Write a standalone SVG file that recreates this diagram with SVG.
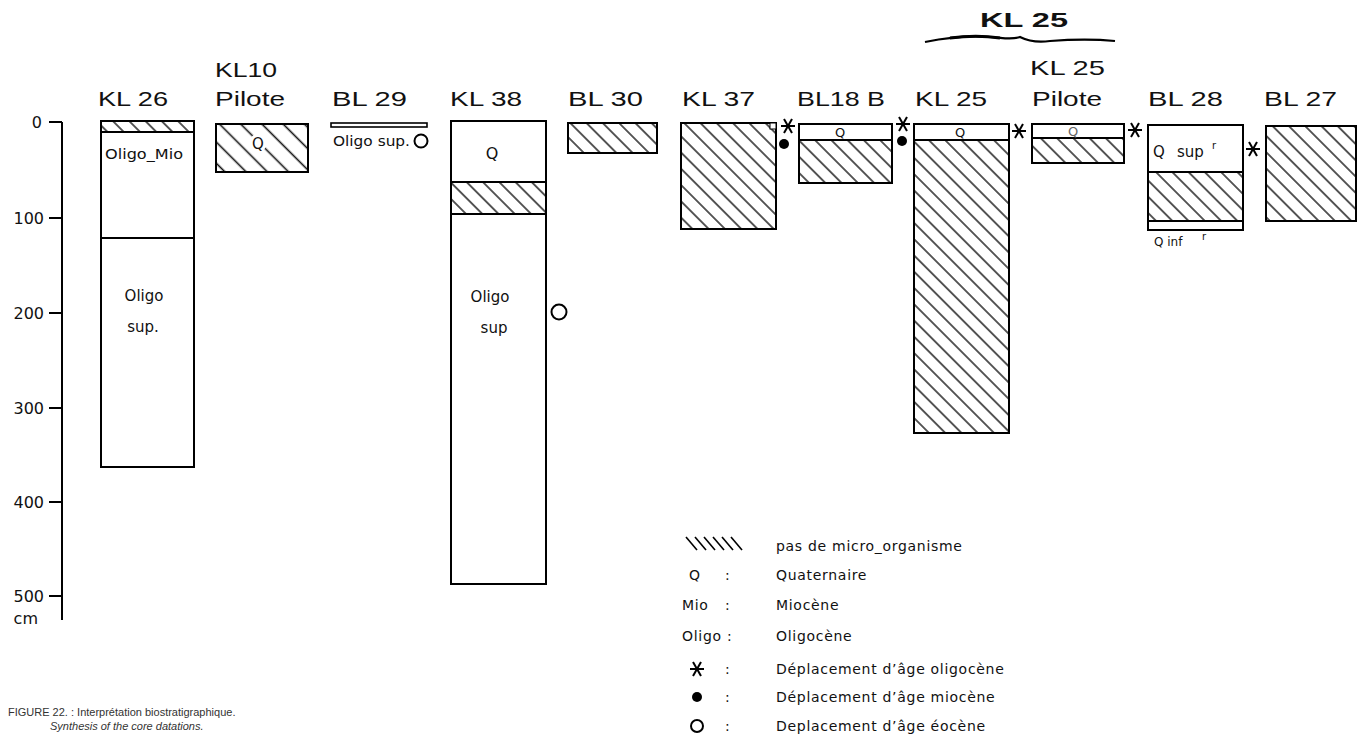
<svg xmlns="http://www.w3.org/2000/svg" width="1363" height="741" viewBox="0 0 1363 741">
<style>
.box{fill:#fff;stroke:#000;stroke-width:2}
.hb{fill:url(#hatch);stroke:#000;stroke-width:2}
.ln{stroke:#000;stroke-width:2;fill:none}
.hd{font-family:"Liberation Sans","DejaVu Sans",sans-serif;font-size:21px;fill:#111}
.in{font-family:"DejaVu Sans","Liberation Sans",sans-serif;fill:#111}
.ax{font-family:"DejaVu Sans","Liberation Sans",sans-serif;font-size:16px;fill:#111;text-anchor:end}
.lg{font-family:"DejaVu Sans","Liberation Sans",sans-serif;font-size:14px;fill:#111;letter-spacing:0.7px}
.cap{font-family:"Liberation Sans",Arial,sans-serif;font-size:11px;fill:#333}
</style>
<defs>
<pattern id="hatch" patternUnits="userSpaceOnUse" width="11.5" height="11.5" patternTransform="rotate(-45)">
<line x1="5.75" y1="-1" x2="5.75" y2="12.5" stroke="#111" stroke-width="1.4"/>
</pattern>
<pattern id="hatch2" patternUnits="userSpaceOnUse" width="15" height="15" patternTransform="rotate(-45)">
<line x1="7.5" y1="-1" x2="7.5" y2="16" stroke="#111" stroke-width="1.6"/>
</pattern>
<g id="ast">
<line x1="-7" y1="0" x2="7" y2="0" stroke="#000" stroke-width="2"/>
<line x1="-4" y1="-7" x2="4" y2="7" stroke="#000" stroke-width="2"/>
<line x1="4" y1="-7" x2="-4" y2="7" stroke="#000" stroke-width="2"/>
</g>
</defs>
<rect width="1363" height="741" fill="#fff"/>

<g id="axis">
<line class="ln" x1="62" y1="122" x2="62" y2="620"/>
<line class="ln" x1="49" y1="122" x2="62" y2="122"/>
<line class="ln" x1="49" y1="218" x2="62" y2="218"/>
<line class="ln" x1="49" y1="313" x2="62" y2="313"/>
<line class="ln" x1="49" y1="408" x2="62" y2="408"/>
<line class="ln" x1="49" y1="502" x2="62" y2="502"/>
<line class="ln" x1="49" y1="596" x2="62" y2="596"/>
<text class="ax" x="42" y="128">0</text>
<text class="ax" x="44" y="224">100</text>
<text class="ax" x="44" y="319">200</text>
<text class="ax" x="44" y="414">300</text>
<text class="ax" x="44" y="508">400</text>
<text class="ax" x="44" y="602">500</text>
<text class="ax" x="38" y="624">cm</text>
</g>

<g id="header">
<text class="hd" x="980" y="27" textLength="88" lengthAdjust="spacingAndGlyphs" style="font-weight:bold">KL 25</text>
<text class="hd" x="98" y="106" textLength="70" lengthAdjust="spacingAndGlyphs">KL 26</text>
<text class="hd" x="215" y="77" textLength="62" lengthAdjust="spacingAndGlyphs">KL10</text>
<text class="hd" x="215" y="106" textLength="70" lengthAdjust="spacingAndGlyphs">Pilote</text>
<text class="hd" x="332" y="106" textLength="75" lengthAdjust="spacingAndGlyphs">BL 29</text>
<text class="hd" x="450" y="106" textLength="72" lengthAdjust="spacingAndGlyphs">KL 38</text>
<text class="hd" x="568" y="106" textLength="75" lengthAdjust="spacingAndGlyphs">BL 30</text>
<text class="hd" x="682" y="106" textLength="73" lengthAdjust="spacingAndGlyphs">KL 37</text>
<text class="hd" x="797" y="106" textLength="88" lengthAdjust="spacingAndGlyphs">BL18 B</text>
<text class="hd" x="915" y="106" textLength="72" lengthAdjust="spacingAndGlyphs">KL 25</text>
<text class="hd" x="1030" y="75" textLength="75" lengthAdjust="spacingAndGlyphs">KL 25</text>
<text class="hd" x="1032" y="106" textLength="70" lengthAdjust="spacingAndGlyphs">Pilote</text>
<text class="hd" x="1148" y="106" textLength="75" lengthAdjust="spacingAndGlyphs">BL 28</text>
<text class="hd" x="1264" y="106" textLength="73" lengthAdjust="spacingAndGlyphs">BL 27</text>
</g>

<g id="connectors">
<path d="M925,42 C945,38 965,35 990,37 C1005,38 1012,40 1020,37 C1028,41 1036,43 1050,41 C1075,39 1095,39 1115,41" fill="none" stroke="#000" stroke-width="2.2"/>
<path d="M950,38 C965,36 980,35 1000,38" fill="none" stroke="#000" stroke-width="3"/>
</g>

<g id="KL26">
<rect class="box" x="101" y="121" width="93" height="346"/>
<rect class="hb" x="101" y="121" width="93" height="11"/>
<line class="ln" x1="101" y1="238" x2="194" y2="238"/>
<text class="in" x="105" y="159" textLength="78" lengthAdjust="spacingAndGlyphs" style="font-size:14px">Oligo_Mio</text>
<text class="in" x="144" y="301" text-anchor="middle" style="font-size:15px">Oligo</text>
<text class="in" x="143" y="332" text-anchor="middle" style="font-size:15px">sup.</text>
</g>

<g id="KL10">
<rect class="box" x="216" y="124" width="92" height="48" style="fill:url(#hatch2)"/>
<ellipse cx="258" cy="143" rx="9" ry="9" fill="#fff"/>
<text class="in" x="258" y="149" text-anchor="middle" style="font-size:15px">Q</text>
</g>

<g id="BL29">
<rect x="331" y="123" width="96" height="4" fill="#fff" stroke="#000" stroke-width="1.6"/>
<text class="in" x="333" y="146" textLength="77" lengthAdjust="spacingAndGlyphs" style="font-size:14px">Oligo sup.</text>
<circle cx="421" cy="141" r="6.5" fill="#fff" stroke="#000" stroke-width="2"/>
</g>

<g id="KL38">
<rect class="box" x="451" y="121" width="95" height="463"/>
<rect class="hb" x="451" y="182" width="95" height="32"/>
<text class="in" x="492" y="159" text-anchor="middle" style="font-size:16px">Q</text>
<text class="in" x="490" y="302" text-anchor="middle" style="font-size:15px">Oligo</text>
<text class="in" x="494" y="333" text-anchor="middle" style="font-size:15px">sup</text>
<circle cx="559" cy="312" r="7.5" fill="#fff" stroke="#000" stroke-width="2"/>
</g>

<g id="BL30">
<rect class="hb" x="568" y="123" width="89" height="30"/>
</g>

<g id="KL37">
<rect class="hb" x="681" y="123" width="95" height="106"/>
<rect x="770" y="123" width="6" height="6" fill="#fff" stroke="#000" stroke-width="1"/>
<use href="#ast" x="788" y="126"/>
<circle cx="784" cy="144" r="5" fill="#000"/>
</g>

<g id="BL18B">
<rect class="box" x="799" y="124" width="93" height="16"/>
<rect class="hb" x="799" y="140" width="93" height="43"/>
<text class="in" x="840" y="137" text-anchor="middle" style="font-size:13px">Q</text>
<use href="#ast" x="903" y="124"/>
<circle cx="902" cy="141" r="5" fill="#000"/>
</g>

<g id="KL25">
<rect class="box" x="914" y="124" width="95" height="16"/>
<rect class="hb" x="914" y="140" width="95" height="293"/>
<text class="in" x="960" y="137" text-anchor="middle" style="font-size:13px">Q</text>
<use href="#ast" x="1019" y="131"/>
</g>

<g id="KL25P">
<rect class="box" x="1032" y="124" width="92" height="14"/>
<rect class="hb" x="1032" y="138" width="92" height="25"/>
<text class="in" x="1073" y="136" text-anchor="middle" style="font-size:13px;fill:#666">Q</text>
<use href="#ast" x="1135" y="130"/>
</g>

<g id="BL28">
<rect class="box" x="1148" y="125" width="95" height="105"/>
<rect class="hb" x="1148" y="172" width="95" height="49"/>
<text class="in" x="1153" y="157" style="font-size:15px">Q</text>
<text class="in" x="1177" y="157" style="font-size:15px">sup</text>
<text class="in" x="1212" y="149" style="font-size:10px">r</text>
<text class="in" x="1154" y="246" style="font-size:12px">Q  inf</text>
<text class="in" x="1202" y="240" style="font-size:10px">r</text>
<use href="#ast" x="1253" y="149"/>
</g>

<g id="BL27">
<rect class="hb" x="1266" y="126" width="90" height="95"/>
</g>

<g id="legend">
<g stroke="#000" stroke-width="1.6">
<line x1="686" y1="537" x2="697" y2="550"/>
<line x1="695" y1="537" x2="706" y2="550"/>
<line x1="704" y1="537" x2="715" y2="550"/>
<line x1="713" y1="537" x2="724" y2="550"/>
<line x1="722" y1="537" x2="733" y2="550"/>
<line x1="731" y1="537" x2="742" y2="550"/>
</g>
<text class="lg" x="776" y="551">pas de micro_organisme</text>
<text class="lg" x="689" y="580">Q</text>
<text class="lg" x="725" y="580">:</text>
<text class="lg" x="776" y="580">Quaternaire</text>
<text class="lg" x="682" y="610">Mio</text>
<text class="lg" x="725" y="610">:</text>
<text class="lg" x="776" y="610">Miocène</text>
<text class="lg" x="682" y="641">Oligo :</text>
<text class="lg" x="776" y="641">Oligocène</text>
<use href="#ast" x="697" y="669"/>
<text class="lg" x="725" y="674">:</text>
<text class="lg" x="776" y="674">Déplacement d’âge oligocène</text>
<circle cx="697" cy="697" r="5" fill="#000"/>
<text class="lg" x="725" y="702">:</text>
<text class="lg" x="776" y="702">Déplacement d’âge miocène</text>
<circle cx="697" cy="726" r="6" fill="#fff" stroke="#000" stroke-width="2"/>
<text class="lg" x="725" y="731">:</text>
<text class="lg" x="776" y="731">Deplacement d’âge éocène</text>
</g>

<g id="caption">
<text class="cap" x="8" y="716">FIGURE 22. : Interprétation biostratigraphique.</text>
<text class="cap" x="50" y="730" style="font-style:italic">Synthesis of the core datations.</text>
</g>
</svg>
